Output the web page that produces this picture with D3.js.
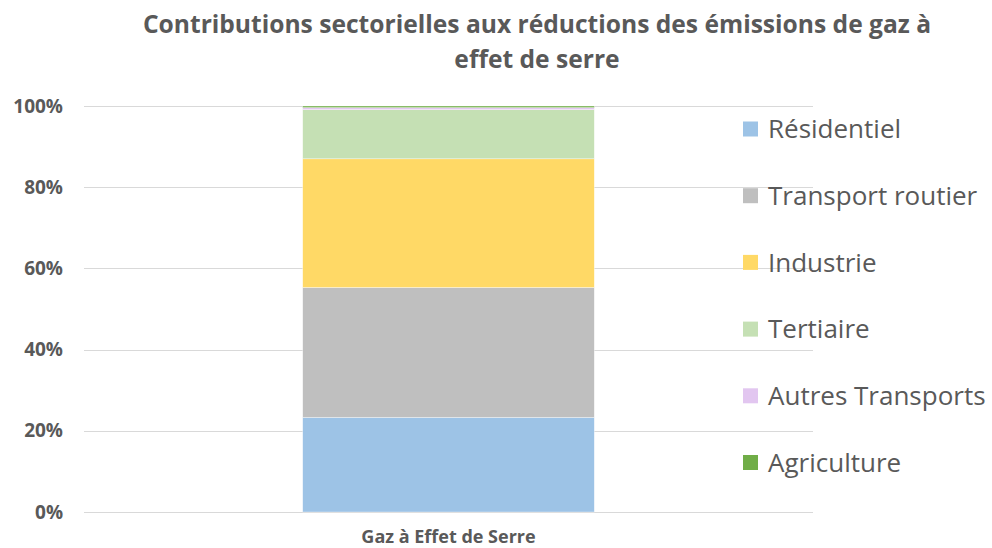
<!DOCTYPE html>
<html>
<head>
<meta charset="utf-8">
<script src="https://cdn.jsdelivr.net/npm/d3@7"></script>
<style>
  html, body { margin: 0; padding: 0; background: #fff; }
  svg { display: block; font-family: "Open Sans", sans-serif; }
</style>
</head>
<body>
<svg id="chart" width="992" height="548"></svg>
<script>
// Sector shares (%) of greenhouse-gas emission reductions
const categories = ["Gaz à Effet de Serre"];
const sectors = ["Résidentiel", "Transport routier", "Industrie", "Tertiaire", "Autres Transports", "Agriculture"];
const shares = [23.3, 32.0, 31.7, 12.1, 0.5, 0.4];
const colors = ["#9DC3E6", "#BFBFBF", "#FFD966", "#C5E0B4", "#E2C6F0", "#70AD47"];
const yTicks = [0, 20, 40, 60, 80, 100];
const titleLines = ["Contributions sectorielles aux réductions des émissions de gaz à", "effet de serre"];

const svg = d3.select("#chart");
const textColor = "#595959";
const font = "'Open Sans', sans-serif";

const plot = { left: 84, right: 813, top: 106, bottom: 512 };

const y = d3.scaleLinear().domain([0, 100]).range([plot.bottom, plot.top]);
const x = d3.scaleBand().domain(categories).range([plot.left, plot.right]).paddingInner(0.6).paddingOuter(0.3);

// Title
svg.append("g").selectAll("text").data(titleLines).join("text")
  .attr("x", 537)
  .attr("y", (d, i) => 33 + i * 35)
  .attr("text-anchor", "middle")
  .attr("font-size", 24.6)
  .attr("font-weight", 700)
  .attr("fill", textColor)
  .text(d => d);

// Gridlines
svg.append("g").selectAll("line").data(yTicks).join("line")
  .attr("x1", plot.left).attr("x2", plot.right)
  .attr("y1", d => Math.round(y(d)) + 0.5).attr("y2", d => Math.round(y(d)) + 0.5)
  .attr("stroke", "#D9D9D9").attr("stroke-width", 1);

// Y axis labels
const yAxis = d3.axisLeft(y).tickValues(yTicks).tickFormat(d => d + "%").tickSize(0).tickPadding(0);
const yg = svg.append("g").attr("transform", `translate(${plot.left - 21},0)`).call(yAxis);
yg.select(".domain").remove();
yg.selectAll("text")
  .attr("font-family", font)
  .attr("font-size", 19).attr("font-weight", 700).attr("fill", textColor);

// Stacked bar
const row = {};
sectors.forEach((s, i) => row[s] = shares[i]);
const stack = d3.stack().keys(sectors)([Object.assign({ cat: categories[0] }, row)]);

svg.append("g").selectAll("rect").data(stack).join("rect")
  .attr("x", x(categories[0]))
  .attr("width", x.bandwidth())
  .attr("y", d => y(d[0][1]))
  .attr("height", d => y(d[0][0]) - y(d[0][1]))
  .attr("fill", (d, i) => colors[i])
  .attr("stroke", "#fff").attr("stroke-width", 0.6).attr("stroke-opacity", 0.6);

// X axis label
const xAxis = d3.axisBottom(x).tickSize(0).tickPadding(0);
const xg = svg.append("g").attr("transform", `translate(0,${plot.bottom})`).call(xAxis);
xg.select(".domain").remove();
xg.selectAll("text")
  .attr("y", 31).attr("dy", null)
  .attr("font-family", font)
  .attr("font-size", 18).attr("font-weight", 700).attr("fill", textColor);

// Legend
const legend = svg.append("g").selectAll("g").data(sectors).join("g")
  .attr("transform", (d, i) => `translate(743,${129 + i * 66.7})`);
legend.append("rect")
  .attr("x", 0).attr("y", -7.5).attr("width", 15).attr("height", 15)
  .attr("fill", (d, i) => colors[i]);
legend.append("text")
  .attr("x", 25).attr("y", 0).attr("dy", "0.35em")
  .attr("font-size", 26).attr("fill", textColor)
  .text(d => d);
</script>
</body>
</html>
